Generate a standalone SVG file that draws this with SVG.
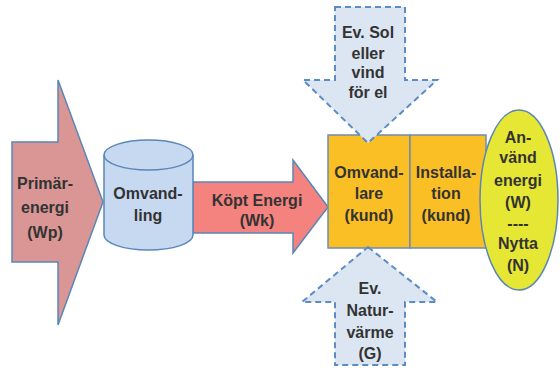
<svg xmlns="http://www.w3.org/2000/svg" width="560" height="369" viewBox="0 0 560 369">
<style>
text{font-family:"Liberation Sans",Arial,sans-serif;font-weight:bold;font-size:16px;fill:#333333;text-anchor:middle}
.solid{stroke:#5A86B8;stroke-width:1.5}
.dash{fill:#DCE6F2;stroke:#5B8CC4;stroke-width:2;stroke-dasharray:6 4}
.box{fill:#FBBF26;stroke:#6F8DAF;stroke-width:1.5}
</style>
<rect width="560" height="369" fill="#ffffff"/>
<g id="connectors">
<g id="primar">
<polygon class="solid" fill="#D99694" points="12,142 58,142 58,80 103,202 58,325 58,262 12,262"/>
<text x="45" y="189">Primär-</text>
<text x="45" y="213">energi</text>
<text x="45" y="238">(Wp)</text>
</g>
<g id="kopt">
<polygon class="solid" fill="#F4827F" points="193,182 293,182 293,160 328,207 293,253 293,233 193,233"/>
<text x="257" y="206">Köpt Energi</text>
<text x="257" y="226">(Wk)</text>
</g>
</g>
<g id="omvandling">
<path class="solid" fill="#C6D9F1" d="M104,155 A44.5,15 0 0 1 193,155 L193,235 A44.5,15 0 0 1 104,235 Z"/>
<path class="solid" fill="none" d="M104,155 A44.5,15 0 0 0 193,155"/>
<text x="148" y="199">Omvand-</text>
<text x="148" y="221">ling</text>
</g>
<g id="omvandlare">
<rect class="box" x="328" y="135" width="82" height="113"/>
<text x="369" y="178">Omvand-</text>
<text x="369" y="199">lare</text>
<text x="369" y="221">(kund)</text>
</g>
<g id="installation">
<rect class="box" x="410" y="135" width="76" height="113"/>
<text x="446" y="178">Installa-</text>
<text x="446" y="199">tion</text>
<text x="446" y="221">(kund)</text>
</g>
<g id="anvand">
<ellipse class="solid" fill="#E6E634" cx="519" cy="200" rx="39" ry="90"/>
<text x="518" y="143">An-</text>
<text x="518" y="163">vänd</text>
<text x="518" y="186">energi</text>
<text x="518" y="208">(W)</text>
<text x="518" y="229">----</text>
<text x="518" y="249">Nytta</text>
<text x="518" y="271">(N)</text>
</g>
<g id="sol">
<polygon class="dash" points="335,7 405,7 405,80 437,80 368,143 303,80 335,80"/>
<text x="368" y="38">Ev. Sol</text>
<text x="368" y="59">eller</text>
<text x="368" y="78">vind</text>
<text x="368" y="98">för el</text>
</g>
<g id="naturvarme">
<polygon class="dash" points="368,247 437,302 405,302 405,365 335,365 335,302 302,302"/>
<text x="370" y="294">Ev.</text>
<text x="370" y="316">Natur-</text>
<text x="370" y="338">värme</text>
<text x="370" y="359">(G)</text>
</g>
</svg>
